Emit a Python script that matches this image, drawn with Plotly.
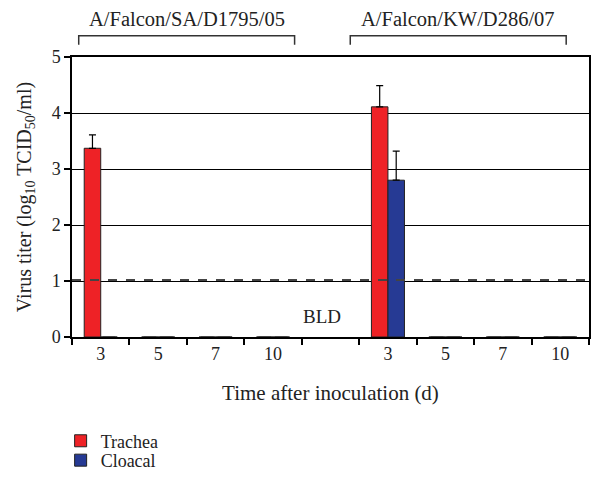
import plotly.graph_objects as go

# ---- data ----
x_pos = [0, 1, 2, 3, 4, 5, 6, 7, 8]
tick_labels = ["3", "5", "7", "10", "", "3", "5", "7", "10"]
trachea = [3.37, 0, 0, 0, None, 4.11, 0, 0, 0]
trachea_err = [0.24, 0, 0, 0, 0, 0.38, 0, 0, 0]
cloacal = [0, 0, 0, 0, None, 2.80, 0, 0, 0]
cloacal_err = [0, 0, 0, 0, 0, 0.52, 0, 0, 0]
detection_limit = 1.02
strains = ["A/Falcon/SA/D1795/05", "A/Falcon/KW/D286/07"]

FONT = "Liberation Serif, serif"
RED = "#EE2226"
BLUE = "#263A94"

shown_vals = [v for v, t in zip(x_pos, tick_labels) if t]
shown_text = [t for t in tick_labels if t]

fig = go.Figure()
fig.add_trace(go.Bar(
    x=x_pos, y=trachea, name="Trachea", legend="legend",
    marker=dict(color=RED, line=dict(color="#222222", width=1)),
    error_y=dict(type="data", array=trachea_err, arrayminus=[0]*9, symmetric=False,
                 color="black", thickness=1.2, width=3.5),
))
fig.add_trace(go.Bar(
    x=x_pos, y=cloacal, name="Cloacal", legend="legend2",
    marker=dict(color=BLUE, line=dict(color="#222222", width=1)),
    error_y=dict(type="data", array=cloacal_err, arrayminus=[0]*9, symmetric=False,
                 color="black", thickness=1.2, width=3.5),
))

# zero-height bars appear as short dark dashes on the baseline
half = (1 - 0.425) / 4
zx, zy = [], []
for i, v in enumerate(trachea):
    if v == 0:
        zx.append(x_pos[i] - half); zy.append(0)
for i, v in enumerate(cloacal):
    if v == 0:
        zx.append(x_pos[i] + half); zy.append(0)
fig.add_trace(go.Scatter(
    x=zx, y=zy, mode="markers", showlegend=False, hoverinfo="skip",
    marker=dict(symbol="line-ew", size=9, line=dict(color="#444444", width=2)),
    cliponaxis=False,
))

# detection limit
fig.add_shape(type="line", xref="paper", x0=0, x1=1, yref="y",
              y0=detection_limit, y1=detection_limit,
              line=dict(color="#444444", width=2, dash="dash"))

# strain brackets
brackets = [(-0.383, 3.375), (4.344, 8.103)]
for (a, b), lab in zip(brackets, strains):
    fig.add_shape(type="path", xref="x", yref="paper",
                  path=f"M{a},1.044 L{a},1.076 L{b},1.076 L{b},1.044",
                  line=dict(color="#333333", width=1.5))
    fig.add_annotation(x=(a + b) / 2, xref="x", y=1.09, yref="paper",
                       yanchor="bottom", text=lab, showarrow=False,
                       font=dict(family=FONT, size=20.5, color="#222222"))

fig.add_annotation(x=3.85, y=0.37, xref="x", yref="y", text="BLD",
                   showarrow=False, font=dict(family=FONT, size=19, color="#222222"))

legend_common = dict(xanchor="left", yanchor="top", font=dict(family=FONT, size=18),
                     bgcolor="rgba(0,0,0,0)", itemwidth=30)

fig.update_layout(
    width=594, height=483,
    margin=dict(l=72, r=5, t=57, b=145),
    paper_bgcolor="white", plot_bgcolor="white",
    barmode="group", bargap=0.425, bargroupgap=0,
    font=dict(family=FONT, size=18, color="#222222"),
    showlegend=True,
    legend=dict(x=-0.022, y=-0.301, **legend_common),
    legend2=dict(x=-0.022, y=-0.370, **legend_common),
    xaxis=dict(
        range=[-0.5, 8.5], tickmode="array", tickvals=shown_vals, ticktext=shown_text,
        ticks="", showline=True, linecolor="black", linewidth=1.5, mirror=True,
        showgrid=False, zeroline=False, automargin=False,
        minor=dict(tickmode="array", tickvals=[i - 0.5 for i in range(10)],
                   ticks="outside", ticklen=6, tickcolor="black", tickwidth=1.5,
                   showgrid=False),
        title=dict(text="Time after inoculation (d)", standoff=22,
                   font=dict(family=FONT, size=21)),
        tickfont=dict(family=FONT, size=18),
    ),
    yaxis=dict(
        range=[0, 5], tickmode="array", tickvals=[0, 1, 2, 3, 4, 5],
        ticks="outside", ticklen=6, tickcolor="black", tickwidth=1.5,
        showline=True, linecolor="black", linewidth=1.5, mirror=True,
        showgrid=True, gridcolor="black", gridwidth=1, zeroline=False,
        automargin=False,
        title=dict(text="Virus titer (log<sub>10</sub> TCID<sub>50</sub>/ml)", standoff=15,
                   font=dict(family=FONT, size=20)),
        tickfont=dict(family=FONT, size=18),
    ),
)

fig.write_html("out.html", config={"displayModeBar": False},
               post_script="document.body.style.margin='0';document.body.style.overflow='hidden';")
